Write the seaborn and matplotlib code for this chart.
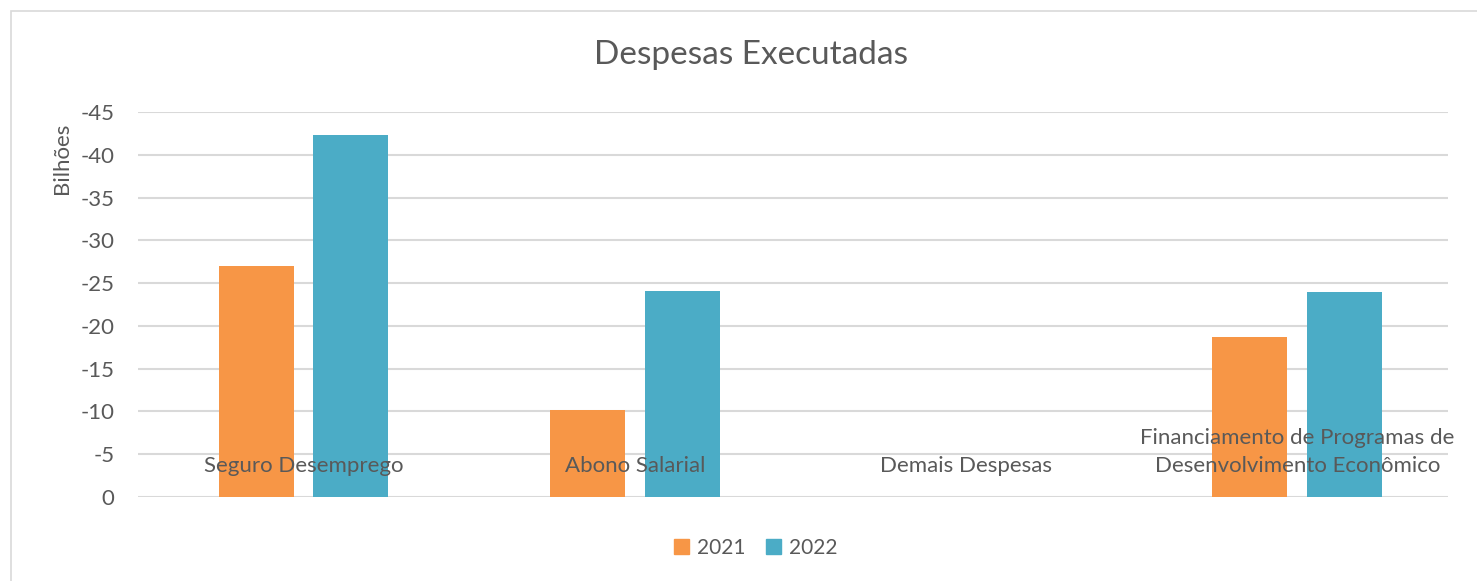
import matplotlib
matplotlib.use("Agg")
import matplotlib.pyplot as plt
import pandas as pd
import seaborn as sns
from matplotlib.patches import Rectangle

categories = [
    "Seguro Desemprego",
    "Abono Salarial",
    "Demais Despesas",
    "Financiamento de Programas de\nDesenvolvimento Econômico",
]
years = ["2021", "2022"]
values_2021 = [-27.0, -10.2, 0.0, -18.7]
values_2022 = [-42.3, -24.1, 0.0, -24.0]
y_ticks = [0, -5, -10, -15, -20, -25, -30, -35, -40, -45]

df = pd.DataFrame({
    "categoria": categories * 2,
    "ano": [years[0]] * len(categories) + [years[1]] * len(categories),
    "valor": values_2021 + values_2022,
})

sns.set_style("white")
plt.rcParams["font.family"] = ["Lato", "DejaVu Sans"]
text_color = "#595959"
grid_color = "#D9D9D9"
palette = {"2021": "#F79646", "2022": "#4BACC6"}

fig = plt.figure(figsize=(14.77, 5.81), dpi=100)
ax = fig.add_axes([138 / 1477, 1 - 497 / 581, (1448 - 138) / 1477, (497 - 112) / 581])

sns.barplot(
    data=df, x="categoria", y="valor", hue="ano", order=categories,
    palette=palette, width=0.5706, gap=0.206, saturation=1, ax=ax,
    legend=False, edgecolor="none",
)

ax.set_ylim(0, -45)
ax.set_yticks(y_ticks)
ax.set_yticklabels([str(t) for t in y_ticks], color=text_color, fontsize=16)
ax.tick_params(axis="y", length=0, pad=17)
ax.set_xticks([])
ax.set_xlabel("")
ax.set_ylabel("")
ax.set_xlim(-0.5, -0.5 + 1310 / 331.2)
for s in ax.spines.values():
    s.set_visible(False)
ax.yaxis.grid(True, color=grid_color, linewidth=1.5)
ax.set_axisbelow(True)

# category labels sit inside the plot, near the zero line
for i, cat in enumerate(categories):
    n_lines = cat.count("\n") + 1
    ax.text(i, -3.6 - (n_lines - 1) * 1.7, cat, ha="center", va="center",
            fontsize=16, color=text_color, linespacing=1.5)

fig.text(751 / 1477, 1 - 55 / 581, "Despesas Executadas", ha="center", va="center",
         fontsize=24, color=text_color)
fig.text(62 / 1477, 1 - 158 / 581, "Bilhões", rotation=90, ha="center",
         va="center", fontsize=16, color=text_color)

handles = [Rectangle((0, 0), 1, 1, color=palette[y]) for y in years]
fig.legend(handles, years, loc="center", bbox_to_anchor=(756 / 1477, 1 - 548 / 581),
           ncol=2, frameon=False, fontsize=15, labelcolor=text_color,
           handlelength=0.7, handleheight=0.7, handletextpad=0.4, columnspacing=1.0)

fig.patches.append(Rectangle((11 / 1477, -0.01), 1.0, 1 - 11 / 581 + 0.01,
                             transform=fig.transFigure, fill=False,
                             edgecolor=grid_color, linewidth=1.2))

fig.savefig("out.png", dpi=100)
